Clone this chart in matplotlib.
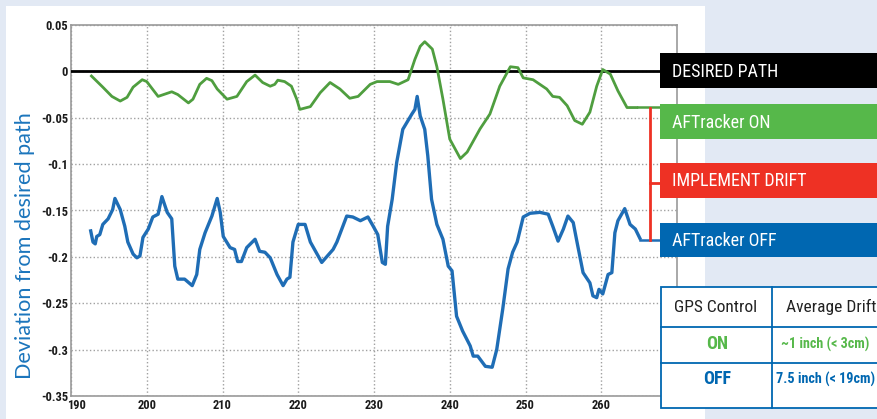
import matplotlib
matplotlib.use("Agg")
import matplotlib.pyplot as plt
import matplotlib.transforms as mtransforms
from matplotlib import font_manager
from matplotlib.patches import Rectangle
from matplotlib.lines import Line2D

# ------------------------------------------------------------------
# colours / fonts
# ------------------------------------------------------------------
BG_BLUE = "#e2e9f4"
GREEN_LINE = "#4f9e3f"
BLUE_LINE = "#1f6db5"
BOX_BLACK = "#000000"
BOX_GREEN = "#56b84a"
BOX_RED = "#ee3124"
BOX_BLUE = "#0067b1"
LABEL_BLUE = "#1b75bc"

_installed = {f.name for f in font_manager.fontManager.ttflist}
_narrow = [n for n in ["Roboto Condensed", "Liberation Sans Narrow", "Archivo Narrow",
                       "Barlow Semi Condensed", "Asap Condensed"] if n in _installed]
NARROW = _narrow[:1] + ["DejaVu Sans"]

# ------------------------------------------------------------------
# data
# ------------------------------------------------------------------
on_x = [192.7, 194.2, 195.4, 196.5, 197.4, 198.2, 199.4, 200.0, 201.5, 203.3,
        204.1, 205.5, 206.1, 207.0, 207.9, 208.6, 209.3, 210.6, 211.9, 213.2,
        214.3, 215.3, 216.3, 216.9, 217.3, 218.2, 219.1, 219.8, 220.2, 221.6,
        222.9, 224.2, 225.5, 226.8, 227.9, 229.5, 230.4, 232.1, 233.2, 234.5,
        235.4, 236.1, 236.7, 237.7, 238.3, 239.1, 240.0, 241.4, 242.3, 244.0,
        245.3, 246.6, 248.0, 249.0, 249.7, 251.0, 252.8, 253.6, 254.5, 255.5,
        256.5, 257.5, 258.5, 259.4, 260.2, 261.2, 262.2, 263.4, 264.7]
on_y = [-0.005, -0.017, -0.027, -0.032, -0.028, -0.017, -0.009, -0.011, -0.027, -0.022,
        -0.025, -0.034, -0.030, -0.014, -0.0075, -0.010, -0.019, -0.030, -0.027, -0.011,
        -0.004, -0.012, -0.016, -0.014, -0.0095, -0.011, -0.016, -0.030, -0.041, -0.038,
        -0.023, -0.012, -0.019, -0.029, -0.027, -0.014, -0.011, -0.011, -0.014, -0.009,
        0.013, 0.027, 0.032, 0.024, 0.005, -0.030, -0.073, -0.094, -0.087, -0.062,
        -0.046, -0.016, 0.005, 0.004, -0.007, -0.009, -0.019, -0.027, -0.028, -0.037,
        -0.053, -0.057, -0.044, -0.016, 0.002, -0.003, -0.021, -0.039, -0.039]

off_x = [192.6, 192.9, 193.2, 193.4, 193.8, 194.2, 194.9, 195.5, 195.8, 196.5,
         197.1, 197.5, 198.2, 198.7, 199.1, 199.5, 200.2, 200.8, 201.5, 202.0,
         202.7, 203.3, 203.7, 204.1, 205.0, 206.0, 206.6, 207.0, 207.7, 208.6,
         209.3, 209.7, 210.1, 211.0, 211.6, 212.0, 212.5, 213.2, 214.3, 214.9,
         215.6, 216.3, 217.2, 218.0, 218.5, 218.9, 219.3, 220.0, 220.9, 221.6,
         222.9, 223.1, 224.6, 225.1, 226.4, 227.2, 228.2, 229.2, 229.9, 230.5,
         231.1, 231.5, 231.8, 232.4, 233.0, 233.8, 235.0, 235.4, 235.7, 236.1,
         236.7, 237.1, 237.6, 238.3, 239.1, 239.8, 240.3, 240.9, 241.7, 242.7,
         243.1, 243.7, 244.7, 245.6, 246.2, 247.0, 247.7, 248.3, 248.9, 249.7,
         250.6, 251.9, 253.0, 253.6, 254.3, 255.0, 255.6, 256.3, 256.8, 257.6,
         258.5, 258.9, 259.4, 259.7, 260.2, 260.9, 261.4, 261.8, 262.2, 263.1,
         263.8, 264.5, 265.1]
off_y = [-0.172, -0.184, -0.186, -0.178, -0.176, -0.165, -0.159, -0.149, -0.137, -0.149,
         -0.167, -0.184, -0.197, -0.201, -0.199, -0.179, -0.170, -0.157, -0.154, -0.135,
         -0.152, -0.159, -0.210, -0.224, -0.224, -0.231, -0.219, -0.192, -0.174, -0.156,
         -0.137, -0.152, -0.178, -0.190, -0.192, -0.205, -0.205, -0.190, -0.181, -0.194,
         -0.195, -0.201, -0.219, -0.231, -0.224, -0.222, -0.184, -0.165, -0.165, -0.184,
         -0.203, -0.206, -0.192, -0.184, -0.156, -0.157, -0.161, -0.157, -0.167, -0.176,
         -0.206, -0.208, -0.167, -0.138, -0.098, -0.0625, -0.046, -0.041, -0.027, -0.048,
         -0.0625, -0.091, -0.138, -0.165, -0.181, -0.210, -0.215, -0.264, -0.280, -0.296,
         -0.307, -0.307, -0.318, -0.319, -0.300, -0.256, -0.213, -0.195, -0.184, -0.157,
         -0.153, -0.152, -0.154, -0.167, -0.183, -0.170, -0.156, -0.163, -0.184, -0.217,
         -0.228, -0.242, -0.244, -0.235, -0.240, -0.219, -0.217, -0.174, -0.161, -0.148,
         -0.165, -0.170, -0.180]

x_ticks = [190, 200, 210, 220, 230, 240, 250, 260]
y_ticks = [0.05, 0, -0.05, -0.1, -0.15, -0.2, -0.25, -0.3, -0.35]
y_tick_labels = ["0.05", "0", "-0.05", "-0.1", "-0.15", "-0.2", "-0.25", "-0.3", "-0.35"]

legend_labels = ["DESIRED PATH", "AFTracker ON", "IMPLEMENT DRIFT", "AFTracker OFF"]
table_header = ["GPS Control", "Average Drift"]
table_rows = [["ON", "~1 inch (< 3cm)"], ["OFF", "7.5 inch (< 19cm)"]]

# ------------------------------------------------------------------
W, H = 878, 419
fig = plt.figure(figsize=(W / 100, H / 100), dpi=100, facecolor=BG_BLUE)


def fx(px):
    return px / W


def fy(py):
    return 1 - py / H


def rect(x0, y0, x1, y1, **kw):
    r = Rectangle((fx(x0), fy(y1)), fx(x1) - fx(x0), fy(y0) - fy(y1),
                  transform=fig.transFigure, **kw)
    fig.add_artist(r)
    return r


def seg(x0, y0, x1, y1, **kw):
    fig.add_artist(Line2D([fx(x0), fx(x1)], [fy(y0), fy(y1)],
                          transform=fig.transFigure, **kw))


# white panel behind the chart
rect(6, 6, 705, 419, facecolor="white", edgecolor="none", zorder=-10)

ax = fig.add_axes([fx(71), fy(396), fx(677) - fx(71), fy(25) - fy(396)])
ax.set_facecolor("white")
ax.set_xlim(190, 270)
ax.set_ylim(-0.35, 0.05)
ax.set_xticks(x_ticks)
ax.set_yticks(y_ticks)
ax.set_yticklabels(y_tick_labels)
ax.tick_params(length=0, pad=2, labelsize=9)
for lab in ax.get_xticklabels() + ax.get_yticklabels():
    lab.set_family(NARROW)
    lab.set_fontweight("bold")
    lab.set_color("#1a1a1a")
# the first x label sits a little right of its grid line, clear of "-0.35"
first = ax.get_xticklabels()[0]
first.set_transform(first.get_transform() +
                    mtransforms.ScaledTranslation(6 / 100, 0, fig.dpi_scale_trans))
ax.grid(True, color="#a0a0a0", linestyle=":", linewidth=1.0)
for sp in ax.spines.values():
    sp.set_color("#999999")
    sp.set_linewidth(1.2)

ax.axhline(0, color="black", linewidth=2.0, zorder=3)
ax.plot(on_x, on_y, color=GREEN_LINE, linewidth=2.0, zorder=4)
ax.plot(off_x, off_y, color=BLUE_LINE, linewidth=2.4, zorder=4)

fig.text(fx(25), fy(246), "Deviation from desired path", rotation=90,
         ha="center", va="center", color=LABEL_BLUE, fontsize=15.6,
         family=["Lato", "DejaVu Sans"])

# legend leaders
seg(638, 107, 661, 107, color=GREEN_LINE, linewidth=1.8, zorder=6)
seg(640, 240, 661, 240, color=BLUE_LINE, linewidth=1.8, zorder=6)
seg(650, 108, 650, 240, color=BOX_RED, linewidth=2.0, zorder=6)
seg(650, 183, 661, 183, color=BOX_RED, linewidth=2.0, zorder=6)

# legend boxes
boxes = [(53, 88, BOX_BLACK), (104, 139, BOX_GREEN),
         (163, 198, BOX_RED), (223, 257, BOX_BLUE)]
for (y0, y1, c), txt in zip(boxes, legend_labels):
    rect(660, y0, 880, y1, facecolor=c, edgecolor="none", zorder=7)
    fig.text(fx(672), fy((y0 + y1) / 2 + 1), txt, color="white", fontsize=13,
             ha="left", va="center", family=NARROW, zorder=8)

# drift table
rect(661, 287, 890, 408, facecolor="white", edgecolor=BOX_BLUE,
     linewidth=1.3, zorder=7)
seg(661, 327, 890, 327, color=BOX_BLUE, linewidth=1.3, zorder=8)
seg(661, 363, 890, 363, color=BOX_BLUE, linewidth=1.3, zorder=8)
seg(772, 287, 772, 408, color=BOX_BLUE, linewidth=1.3, zorder=8)

fig.text(fx(716), fy(307), table_header[0], ha="center", va="center",
         fontsize=12.5, family=NARROW, color="#222222", zorder=9)
fig.text(fx(786), fy(307), table_header[1], ha="left", va="center",
         fontsize=12.5, family=NARROW, color="#222222", zorder=9)
row_y = [344, 379]
row_c = [BOX_GREEN, BOX_BLUE]
row_x2 = [781, 776]
for (a, b), yy, c, x2 in zip(table_rows, row_y, row_c, row_x2):
    fig.text(fx(717), fy(yy), a, ha="center", va="center", fontsize=13,
             fontweight="bold", family=NARROW, color=c, zorder=9)
    fig.text(fx(x2), fy(yy), b, ha="left", va="center", fontsize=10.2,
             fontweight="bold", family=NARROW, color=c, zorder=9)

fig.savefig("out.png", dpi=100, facecolor=BG_BLUE)
